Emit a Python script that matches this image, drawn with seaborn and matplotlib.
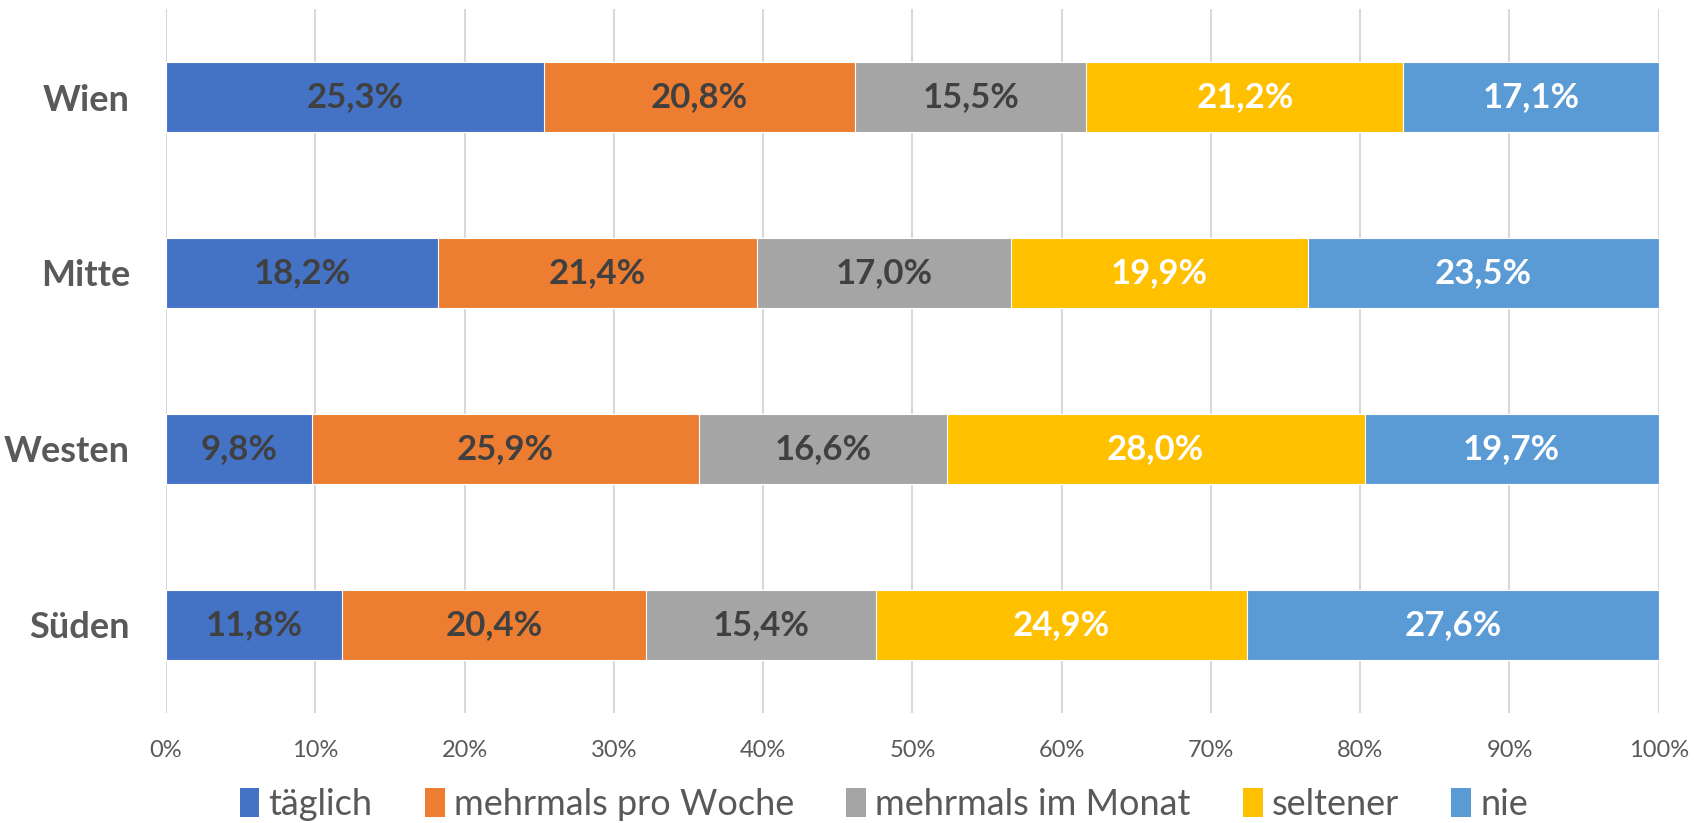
import numpy as np
import pandas as pd
import matplotlib
matplotlib.use('Agg')
import matplotlib.pyplot as plt
from matplotlib.patches import Patch
import seaborn as sns

regions = ['Wien', 'Mitte', 'Westen', 'Süden']
categories = ['täglich', 'mehrmals pro Woche', 'mehrmals im Monat', 'seltener', 'nie']
taeglich = [25.3, 18.2, 9.8, 11.8]
pro_woche = [20.8, 21.4, 25.9, 20.4]
im_monat = [15.5, 17.0, 16.6, 15.4]
seltener = [21.2, 19.9, 28.0, 24.9]
nie = [17.1, 23.5, 19.7, 27.6]
colors = ['#4472C4', '#ED7D31', '#A5A5A5', '#FFC000', '#5B9BD5']
label_colors = ['#404040', '#404040', '#404040', 'white', 'white']
xticks = [0, 10, 20, 30, 40, 50, 60, 70, 80, 90, 100]

sns.set_style('white')
font = ['Lato', 'DejaVu Sans']

df = pd.DataFrame(dict(zip(categories, [taeglich, pro_woche, im_monat, seltener, nie])),
                  index=regions)
# 100% gestapelt wie in Excel
shares = df.div(df.sum(axis=1), axis=0) * 100
cum = shares.cumsum(axis=1)

fig, ax = plt.subplots(figsize=(17.03, 8.23), dpi=100)
fig.subplots_adjust(left=0.0975, right=0.974, top=0.989, bottom=0.134)

for cat, col in reversed(list(zip(categories, colors))):
    sns.barplot(x=cum[cat].values, y=regions, orient='h', color=col,
                saturation=1, width=0.4, edgecolor='white', linewidth=0.8,
                ax=ax, zorder=2)

for i, reg in enumerate(regions):
    for cat, lc in zip(categories, label_colors):
        center = cum.loc[reg, cat] - shares.loc[reg, cat] / 2
        txt = f"{df.loc[reg, cat]:.1f}%".replace('.', ',')
        ax.text(center, i, txt, ha='center', va='center', color=lc,
                fontsize=25, fontweight='bold', family=font, zorder=3)

ax.set_xlim(0, 100)
ax.set_ylim(3.5, -0.5)
ax.set_xticks(xticks)
ax.set_xticklabels([f'{t}%' for t in xticks], family=font,
                   fontsize=17, color='#595959')
ax.set_yticks(range(len(regions)))
ax.set_yticklabels(regions, family=font, fontsize=26,
                   fontweight='bold', color='#595959')
ax.tick_params(axis='x', length=0, pad=20)
ax.tick_params(axis='y', length=0, pad=26)
ax.xaxis.grid(True, color='#D9D9D9', linewidth=1.5, zorder=0)
ax.set_axisbelow(True)
ax.set_xlabel('')
ax.set_ylabel('')
sns.despine(ax=ax, left=True, bottom=True)

handles = [Patch(facecolor=c, edgecolor='none') for c in colors]
fig.legend(handles, categories, loc='center', bbox_to_anchor=(0.519, 0.022),
           ncol=5, frameon=False, handlelength=0.55, handleheight=0.85,
           handletextpad=0.25, columnspacing=1.45,
           prop={'family': font, 'size': 26}, labelcolor='#595959')

fig.savefig('out.png', dpi=100)
